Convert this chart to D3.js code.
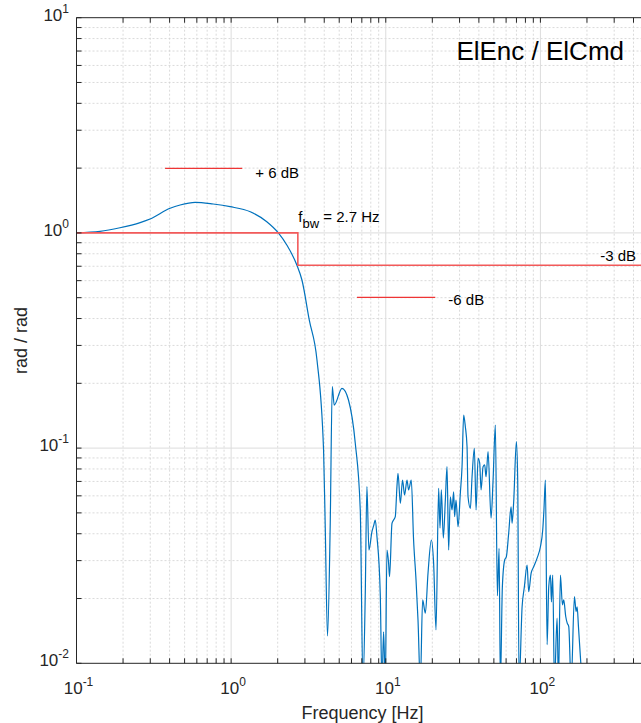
<!DOCTYPE html>
<html>
<head>
<meta charset="utf-8">
<script src="https://cdn.jsdelivr.net/npm/d3@7"></script>
<style>
  html, body { margin: 0; padding: 0; background: #fff; }
  svg { display: block; font-family: "Liberation Sans", Arial, Helvetica, sans-serif; }
</style>
</head>
<body>
<script>
// Closed-loop response magnitude (rad / rad) vs frequency (Hz)
const freq = [
  0.1, 0.142, 0.191, 0.258, 0.299, 0.403, 0.468, 0.585, 0.765, 0.985,
  1.33, 1.70, 2.02, 2.29, 2.66, 2.87, 3.20, 3.59, 3.96, 4.06,
  4.20, 4.37, 4.51, 4.64, 5.21, 5.74, 6.35, 6.84, 7.12, 7.37,
  7.55, 7.78, 8.14, 8.34, 8.55, 8.77, 9.21, 9.45, 9.68, 9.93,
  10.18, 10.43, 10.58, 10.97, 11.23, 11.52, 11.81, 12.0, 12.42, 12.84,
  13.23, 13.72, 14.05, 14.62, 15.13, 15.69, 16.16, 16.73, 17.31, 18.03,
  18.76, 19.71, 20.39, 21.13, 21.97, 22.43, 22.87, 23.56, 24.28, 24.9,
  25.5, 26.15, 26.82, 27.47, 27.88, 28.47, 29.33, 30.35, 31.13, 31.89,
  32.7, 33.54, 34.04, 35.24, 36.14, 37.4, 38.36, 39.52, 40.47, 41.33,
  42.58, 43.6, 44.52, 45.86, 47.96, 49.42, 51.13, 52.7, 54.05, 55.1,
  56.75, 58.73, 60.24, 62.34, 64.62, 65.58, 67.17, 69.93, 71.3, 72.8,
  76.14, 78.78, 82.02, 84.0, 87.05, 90.49, 95.2, 100, 103.5, 105.4,
  107.7, 110.5, 113.2, 116.1, 117.8, 120.1, 123.2, 128.2, 130.8, 134.7,
  138.8, 141.5, 145.8, 148.9, 152.5, 158, 166, 170.2, 172.8, 176.2,
  186.2
];
const mag = [
  1.0, 1.016, 1.057, 1.117, 1.16, 1.301, 1.348, 1.387, 1.362, 1.324,
  1.254, 1.127, 1.0, 0.879, 0.709, 0.604, 0.394, 0.2566, 0.098, 0.0431,
  0.0134, 0.0431, 0.193, 0.1585, 0.1896, 0.1673, 0.1053, 0.0516, 0.008, 0.0212,
  0.0662, 0.0336, 0.0409, 0.0435, 0.0463, 0.0388, 0.0211, 0.008, 0.014, 0.008,
  0.0336, 0.0292, 0.0253, 0.0447, 0.0463, 0.048, 0.0662, 0.0764, 0.0554, 0.0711,
  0.0605, 0.0711, 0.0639, 0.0711, 0.0374, 0.0244, 0.0159, 0.008, 0.0197, 0.0171,
  0.0263, 0.0374, 0.0292, 0.0143, 0.065, 0.0425, 0.0639, 0.0382, 0.0574, 0.082,
  0.0336, 0.0594, 0.0516, 0.0627, 0.048, 0.0574, 0.0431, 0.0617, 0.082, 0.1425,
  0.1257, 0.1015, 0.0594, 0.0525, 0.0736, 0.0998, 0.0516, 0.0897, 0.0853, 0.0639,
  0.082, 0.0835, 0.0736, 0.0962, 0.0472, 0.0711, 0.128, 0.0206, 0.0342, 0.008,
  0.0227, 0.0302, 0.0313, 0.0402, 0.0534, 0.0447, 0.0563, 0.1071, 0.0711, 0.008,
  0.0183, 0.0227, 0.0286, 0.0215, 0.0262, 0.0281, 0.0308, 0.0348, 0.0416, 0.0516,
  0.0711, 0.0122, 0.0227, 0.0257, 0.0193, 0.0257, 0.008, 0.0162, 0.008, 0.0257,
  0.0187, 0.0197, 0.0165, 0.0154, 0.0148, 0.008, 0.0204, 0.0174, 0.0183, 0.0148,
  0.008
];

// Bandwidth marker: 0 dB until f_bw, then the -3 dB level
const bandwidthHz = 2.7;
const bwStepF = [0.1, bandwidthHz, bandwidthHz, 500];
const bwStepM = [1.0, 1.0, 0.7079, 0.7079];

// Reference level segments (+6 dB and -6 dB)
const plus6F = [0.374, 1.18];
const plus6M = [1.995, 1.995];
const minus6F = [6.51, 20.9];
const minus6M = [0.5012, 0.5012];

const xTickExps = [-1, 0, 1, 2];
const yTickExps = [-2, -1, 0, 1];

const W = 641, H = 723;
const L = 76.5, R = 648.5, T = 17.7, B = 663.3;

const x = d3.scaleLog().domain([0.1, 500]).range([L, R]);
const y = d3.scaleLog().domain([0.01, 10]).range([B, T]);

const svg = d3.select("body").append("svg").attr("width", W).attr("height", H);
svg.append("rect").attr("width", W).attr("height", H).attr("fill", "#fff");

svg.append("defs").append("clipPath").attr("id", "plotClip")
  .append("rect").attr("x", L).attr("y", T).attr("width", R - L).attr("height", B - T);

// tick positions
const xMajor = [0.1, 1, 10, 100];
const xMinor = [];
for (const d of [0.1, 1, 10, 100]) for (let k = 2; k <= 9; k++) if (d * k <= 500) xMinor.push(d * k);
const yMajor = [0.01, 0.1, 1, 10];
const yMinor = [];
for (const d of [0.01, 0.1, 1]) for (let k = 2; k <= 9; k++) yMinor.push(d * k);

const grid = svg.append("g");
// minor grid (dotted)
grid.selectAll(".xmin").data(xMinor).join("line")
  .attr("x1", d => x(d)).attr("x2", d => x(d)).attr("y1", T).attr("y2", B)
  .attr("stroke", "#d0d0d0").attr("stroke-width", 0.8).attr("stroke-dasharray", "2,2");
grid.selectAll(".ymin").data(yMinor).join("line")
  .attr("y1", d => y(d)).attr("y2", d => y(d)).attr("x1", L).attr("x2", R)
  .attr("stroke", "#d0d0d0").attr("stroke-width", 0.8).attr("stroke-dasharray", "2,2");
// major grid (solid)
grid.selectAll(".xmaj").data(xMajor.slice(1)).join("line")
  .attr("x1", d => x(d)).attr("x2", d => x(d)).attr("y1", T).attr("y2", B)
  .attr("stroke", "#dcdcdc").attr("stroke-width", 1);
grid.selectAll(".ymaj").data(yMajor.slice(1, 3)).join("line")
  .attr("y1", d => y(d)).attr("y2", d => y(d)).attr("x1", L).attr("x2", R)
  .attr("stroke", "#dcdcdc").attr("stroke-width", 1);

const plot = svg.append("g").attr("clip-path", "url(#plotClip)");

// response curve
const curveLine = d3.line().x(d => x(d[0])).y(d => y(d[1])).curve(d3.curveMonotoneX);
plot.append("path")
  .datum(freq.map((f, i) => [f, mag[i]]))
  .attr("d", curveLine)
  .attr("fill", "none").attr("stroke", "#0072BD").attr("stroke-width", 1.2);

const lin = d3.line().x(d => x(d[0])).y(d => y(d[1]));
// bandwidth step
plot.append("path")
  .datum(bwStepF.map((f, i) => [f, bwStepM[i]]))
  .attr("d", lin)
  .attr("fill", "none").attr("stroke", "#f25a5a").attr("stroke-width", 1.6);
// ±6 dB reference segments
plot.append("path").datum(plus6F.map((f, i) => [f, plus6M[i]])).attr("d", lin)
  .attr("fill", "none").attr("stroke", "#ee3535").attr("stroke-width", 1.2);
plot.append("path").datum(minus6F.map((f, i) => [f, minus6M[i]])).attr("d", lin)
  .attr("fill", "none").attr("stroke", "#ee3535").attr("stroke-width", 1.2);

// axes box lines
const axisColor = "#262626";
const ax = svg.append("g").attr("stroke", axisColor).attr("stroke-width", 1);
ax.append("line").attr("x1", L).attr("x2", L).attr("y1", T).attr("y2", B);
ax.append("line").attr("x1", L).attr("x2", R).attr("y1", B).attr("y2", B);
ax.append("line").attr("x1", L).attr("x2", R).attr("y1", T).attr("y2", T);

const tl = 5;
const allX = xMajor.concat(xMinor);
const allY = yMajor.concat(yMinor);
ax.selectAll(".xb").data(allX).join("line")
  .attr("x1", d => x(d)).attr("x2", d => x(d)).attr("y1", B).attr("y2", B - tl);
ax.selectAll(".xt").data(allX).join("line")
  .attr("x1", d => x(d)).attr("x2", d => x(d)).attr("y1", T).attr("y2", T + tl);
ax.selectAll(".yl").data(allY).join("line")
  .attr("y1", d => y(d)).attr("y2", d => y(d)).attr("x1", L).attr("x2", L + tl);

// tick labels
const tickFont = 17, expFont = 12;
const xl = svg.append("g").attr("fill", axisColor).attr("font-size", tickFont).attr("text-anchor", "middle");
xTickExps.forEach(e => {
  const t = xl.append("text").attr("x", x(Math.pow(10, e)) + 2).attr("y", 694);
  t.append("tspan").text("10");
  t.append("tspan").attr("dy", -8).attr("font-size", expFont).text(e < 0 ? "-" + (-e) : String(e));
});
const yl = svg.append("g").attr("fill", axisColor).attr("font-size", tickFont).attr("text-anchor", "end");
yTickExps.forEach(e => {
  const t = yl.append("text").attr("x", 69).attr("y", y(Math.pow(10, e)) + 3);
  t.append("tspan").text("10");
  t.append("tspan").attr("dy", -8).attr("font-size", expFont).text(e < 0 ? "-" + (-e) : String(e));
});

// axis titles
svg.append("text").attr("x", (L + R) / 2).attr("y", 719).attr("text-anchor", "middle")
  .attr("font-size", 18).attr("fill", axisColor).text("Frequency [Hz]");
svg.append("text").attr("transform", `translate(27,${(T + B) / 2}) rotate(-90)`)
  .attr("text-anchor", "middle").attr("font-size", 18).attr("fill", axisColor).text("rad / rad");

// chart title inside the axes
svg.append("text").attr("x", 624).attr("y", 60).attr("text-anchor", "end")
  .attr("font-size", 26).attr("fill", "#000").text("ElEnc / ElCmd");

// annotations
const ann = svg.append("g").attr("font-size", 15).attr("fill", "#000");
ann.append("text").attr("x", x(plus6F[1]) + 13).attr("y", y(plus6M[0]) + 9.5).text("+ 6 dB");
ann.append("text").attr("x", x(minus6F[1]) + 13).attr("y", y(minus6M[0]) + 8).text("-6 dB");
ann.append("text").attr("x", 636).attr("y", y(bwStepM[2]) - 4).attr("text-anchor", "end").text("-3 dB");
const fb = ann.append("text").attr("x", x(bandwidthHz) + 0.5).attr("y", 221.5);
fb.append("tspan").text("f");
fb.append("tspan").attr("dy", 6).attr("font-size", 13).text("bw");
fb.append("tspan").attr("dy", -6).text(" = " + bandwidthHz + " Hz");
</script>
</body>
</html>
